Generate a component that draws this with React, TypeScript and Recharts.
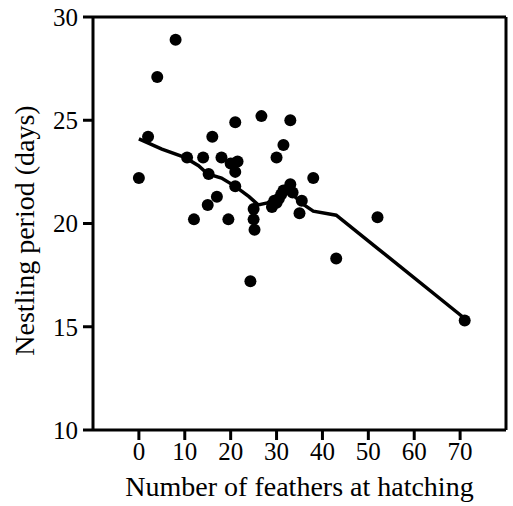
import {
  ComposedChart,
  Scatter,
  Line,
  XAxis,
  YAxis,
} from "recharts";

// number of feathers at hatching (x) and nestling period in days (y)
const featherCounts = [
  0, 2, 4, 8, 10.5, 12, 14, 15, 15.2, 16, 17, 18, 19.5, 20, 21.5, 21, 21, 21,
  24.3, 25, 25, 25.2, 26.7, 29, 29.5, 30, 30.5, 31, 31.5, 33, 33.5, 30, 31.5,
  33, 35, 35.5, 38, 43, 52, 71,
];
const nestlingDays = [
  22.2, 24.2, 27.1, 28.9, 23.2, 20.2, 23.2, 20.9, 22.4, 24.2, 21.3, 23.2, 20.2,
  22.9, 23.0, 22.5, 24.9, 21.8, 17.2, 20.7, 20.2, 19.7, 25.2, 20.8, 21.1, 21.0,
  21.2, 21.4, 21.6, 21.9, 21.5, 23.2, 23.8, 25.0, 20.5, 21.1, 22.2, 18.3, 20.3,
  15.3,
];

// smoothed trend line
const trendX = [0, 5, 10, 13, 15, 18, 21, 24, 26, 28, 30, 32, 34, 36, 38, 43, 52, 71];
const trendY = [
  24.1, 23.6, 23.2, 22.8, 22.4, 22.2, 21.8, 21.3, 20.9, 21.0, 21.3, 21.5, 21.3,
  20.9, 20.6, 20.4, 18.8, 15.4,
];

const xTicks = [0, 10, 20, 30, 40, 50, 60, 70];
const yTicks = [10, 15, 20, 25, 30];
const rightTicks = [15, 20, 25];

const points = featherCounts.map((x, i) => ({ x, y: nestlingDays[i] }));
const trend = trendX.map((x, i) => ({ x, y: trendY[i] }));

const FONT = "'Liberation Serif', 'Times New Roman', serif";
const axisStroke = { stroke: "#000", strokeWidth: 3 };
const tickStyle = { fill: "#000", fontSize: 25, fontFamily: FONT };

const YTitle = (props: any) => {
  const vb = props.viewBox || {};
  const cx = 24;
  const cy = vb.y + vb.height / 2 + 7;
  return (
    <text
      x={cx}
      y={cy}
      transform={`rotate(-90 ${cx} ${cy})`}
      textAnchor="middle"
      dominantBaseline="central"
      fontFamily={FONT}
      fontSize={28}
      fill="#000"
    >
      Nestling period (days)
    </text>
  );
};

export default function App() {
  return (
    <div style={{ position: "absolute", left: 0, top: 0, background: "#fff" }}>
      <ComposedChart
        width={513}
        height={506}
        margin={{ top: 0, right: 0, bottom: 0, left: 0 }}
      >
        <XAxis
          type="number"
          dataKey="x"
          domain={[-10, 80]}
          ticks={xTicks}
          interval={0}
          height={76}
          axisLine={axisStroke}
          tickLine={axisStroke}
          tickSize={10}
          tickMargin={2}
          tick={tickStyle}
          label={{
            value: "Number of feathers at hatching",
            position: "insideBottom",
            offset: 10,
            style: { fill: "#000", fontSize: 28, fontFamily: FONT },
          }}
        />
        <XAxis
          xAxisId="top"
          orientation="top"
          type="number"
          dataKey="x"
          domain={[-10, 80]}
          ticks={xTicks}
          interval={0}
          height={17}
          axisLine={axisStroke}
          tickLine={axisStroke}
          tickSize={11}
          tick={false}
        />
        <YAxis
          type="number"
          domain={[10, 30]}
          ticks={yTicks}
          interval={0}
          width={93}
          axisLine={axisStroke}
          tickLine={axisStroke}
          tickSize={10}
          tickMargin={5}
          tick={tickStyle}
          label={<YTitle />}
        />
        <YAxis
          yAxisId="right"
          orientation="right"
          type="number"
          domain={[10, 30]}
          ticks={rightTicks}
          interval={0}
          width={7}
          axisLine={axisStroke}
          tickLine={axisStroke}
          tickSize={7}
          tick={false}
        />
        <Line
          data={trend}
          dataKey="y"
          type="linear"
          stroke="#000"
          strokeWidth={3.5}
          dot={false}
          isAnimationActive={false}
        />
        <Scatter
          data={points}
          dataKey="y"
          fill="#000"
          shape={(p: any) => <circle cx={p.cx} cy={p.cy} r={6} fill="#000" />}
          isAnimationActive={false}
        />
      </ComposedChart>
    </div>
  );
}
